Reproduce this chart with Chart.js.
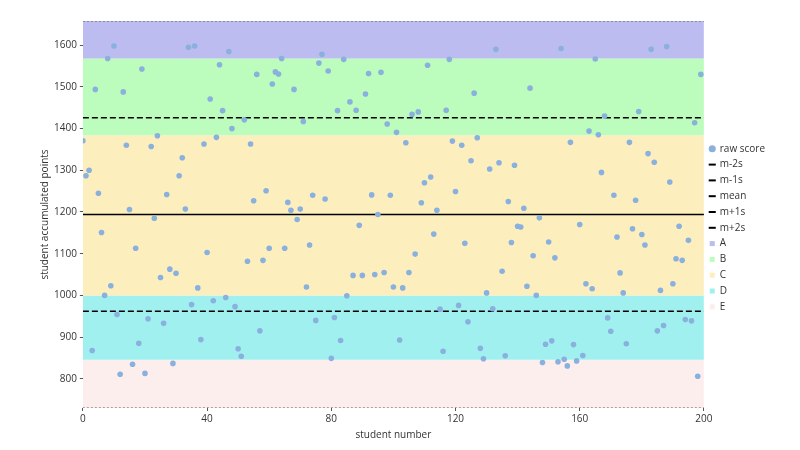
<!DOCTYPE html>
<html>
<head>
<meta charset="utf-8">
<script src="https://cdn.jsdelivr.net/npm/chart.js@4/dist/chart.umd.min.js"></script>
<style>
  html, body { margin: 0; padding: 0; background: #fff; }
  #wrap { width: 800px; height: 450px; }
</style>
</head>
<body>
<div id="wrap"><canvas id="chart"></canvas></div>
<script>
// raw scores, one per student number 0..199
const scores = [
  1371, 1287, 1300, 868, 1494, 1245, 1151, 1000, 1568, 1023,
  1598, 954, 811, 1488, 1360, 1206, 835, 1113, 885, 1543,
  813, 944, 1357, 1185, 1383, 1043, 933, 1242, 1063, 837,
  1053, 1287, 1330, 1207, 1595, 978, 1598, 1018, 894, 1363,
  1103, 1471, 987, 1379, 1553, 1443, 995, 1585, 1400, 973,
  872, 854, 1421, 1082, 1363, 1227, 1530, 915, 1084, 1251,
  1113, 1507, 1536, 1531, 1568, 1113, 1223, 1204, 1494, 1182,
  1207, 1417, 1020, 1121, 1240, 940, 1557, 1578, 1231, 1538,
  849, 947, 1443, 892, 1566, 999, 1464, 1048, 1444, 1168,
  1048, 1483, 1532, 1241, 1050, 1194, 1535, 1055, 1411, 1240,
  1020, 1391, 893, 1018, 1366, 1055, 1434, 1099, 1440, 1222,
  1270, 1552, 1284, 1147, 1204, 967, 866, 1444, 1566, 1370,
  1249, 976, 1360, 1125, 937, 1323, 1485, 1378, 873, 848,
  1006, 1303, 968, 1590, 1318, 1058, 855, 1225, 1127, 1312,
  1166, 1164, 1209, 1022, 1497, 1095, 1000, 1186, 839, 883,
  1128, 891, 1090, 841, 1592, 847, 831, 1367, 882, 843,
  1170, 856, 1028, 1394, 1016, 1567, 1385, 1295, 1430, 946,
  914, 1240, 1140, 1054, 1006, 884, 1367, 1160, 1228, 1441,
  1146, 1121, 1340, 1590, 1319, 915, 1012, 928, 1597, 1272,
  1028, 1088, 1166, 1084, 942, 1132, 939, 1414, 806, 1530
];

// statistics lines
const meanScore = 1194;
const sdScore = 232;
const lineNames = ["m-2s", "m-1s", "mean", "m+1s", "m+2s"];
const lineFactors = [-2, -1, 0, 1, 2];

// grade bands (lower, upper bound)
const gradeNames = ["A", "B", "C", "D", "E"];
const gradeLower = [1568, 1384, 1000, 846, 730];
const gradeUpper = [1658, 1568, 1384, 1000, 846];
const gradeColors = ["#bcbcf0", "#bcfcbc", "#fdeebe", "#a0f0f0", "#fdeeee"];

const xTicks = [0, 40, 80, 120, 160, 200];
const yTicks = [800, 900, 1000, 1100, 1200, 1300, 1400, 1500, 1600];
const yMin = meanScore - 2 * sdScore;
const yMax = meanScore + 2 * sdScore;

Chart.defaults.font.family = "'Open Sans', 'Noto Sans', sans-serif";
Chart.defaults.font.size = 10;
Chart.defaults.color = "#333";

const datasets = [];

datasets.push({
  type: "scatter",
  label: "raw score",
  data: scores.map((s, i) => ({ x: i, y: s })),
  backgroundColor: "#8ab0de",
  borderWidth: 0,
  pointRadius: 2.8,
  pointStyle: "circle",
});

lineNames.forEach((name, i) => {
  const v = meanScore + lineFactors[i] * sdScore;
  let dash = [];
  let width = 1.5;
  let color = "#000";
  if (Math.abs(lineFactors[i]) === 2) { dash = [2, 2]; width = 1; color = "#555"; }
  else if (Math.abs(lineFactors[i]) === 1) { dash = [6, 3]; }
  datasets.push({
    type: "line",
    label: name,
    data: [{ x: 0, y: v }, { x: 200, y: v }],
    borderColor: color,
    backgroundColor: "#000",
    borderWidth: width,
    borderDash: dash,
    pointRadius: 0,
    pointStyle: "line",
    fill: false,
  });
});

gradeNames.forEach((name, i) => {
  datasets.push({
    type: "line",
    label: name,
    data: [{ x: 0, y: gradeUpper[i] }, { x: 200, y: gradeUpper[i] }],
    borderWidth: 0,
    borderColor: "rgba(0,0,0,0)",
    backgroundColor: gradeColors[i],
    pointRadius: 0,
    pointStyle: "rect",
    fill: { value: gradeLower[i] },
  });
});

new Chart(document.getElementById("chart"), {
  data: { datasets },
  options: {
    responsive: true,
    maintainAspectRatio: false,
    animation: false,
    layout: { padding: { left: 35, right: 25, top: 21, bottom: 5 } },
    plugins: {
      tooltip: { enabled: false },
      legend: {
        position: "right",
        align: "start",
        title: { display: true, text: "", padding: { top: 0, bottom: 105 } },
        labels: {
          usePointStyle: true,
          boxWidth: 5,
          boxHeight: 5,
          padding: 5.8,
          color: "#333",
          font: { size: 10 },
          generateLabels(chart) {
            const items = Chart.defaults.plugins.legend.labels.generateLabels(chart);
            items.forEach((it, idx) => {
              if (idx >= 1 && idx <= 5) { it.strokeStyle = "#000"; it.lineWidth = 2; it.lineDash = []; }
              if (idx >= 6) { it.strokeStyle = it.fillStyle; it.lineWidth = 0; }
              if (idx === 0) { it.strokeStyle = it.fillStyle; }
            });
            return items;
          },
        },
      },
    },
    scales: {
      x: {
        type: "linear",
        min: 0,
        max: 200,
        afterBuildTicks(axis) { axis.ticks = xTicks.map(v => ({ value: v })); },
        grid: { display: true, drawOnChartArea: false, drawTicks: true, tickLength: 3, color: "#555" },
        border: { display: false },
        ticks: { color: "#333", padding: 2, callback: v => String(v) },
        title: { display: true, text: "student number", color: "#333", padding: { top: 2 } },
      },
      y: {
        min: yMin,
        max: yMax,
        afterBuildTicks(axis) { axis.ticks = yTicks.map(v => ({ value: v })); },
        grid: { display: true, drawOnChartArea: false, drawTicks: true, tickLength: 3, color: "#555" },
        border: { display: false },
        ticks: { color: "#333", padding: 3, callback: v => String(v) },
        title: { display: true, text: "student accumulated points", color: "#333", padding: { bottom: 0 } },
      },
    },
  },
});
</script>
</body>
</html>
